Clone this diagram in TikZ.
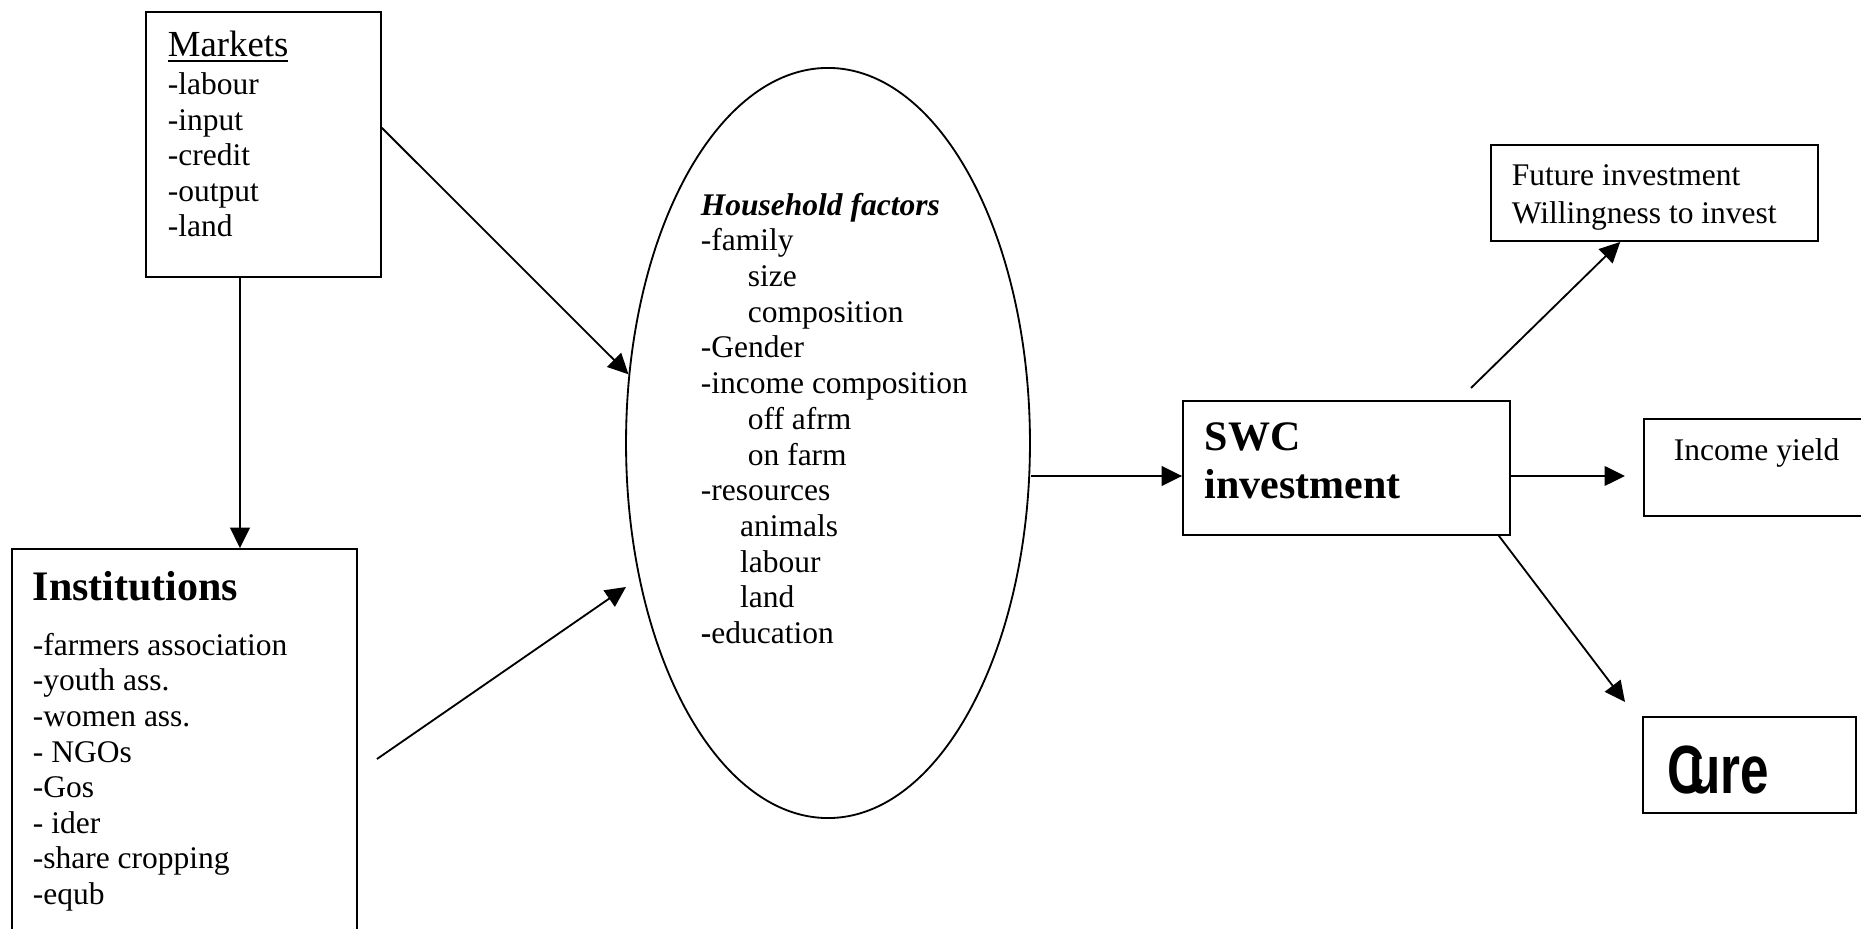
\documentclass[tikz,border=0pt]{standalone}
\usepackage{graphicx}
\usepackage{fontspec}
\setmainfont{Liberation Serif}
\newfontfamily\carefont{Liberation Sans}
\usetikzlibrary{arrows.meta,shapes.geometric}

\begin{document}
\begin{tikzpicture}[x=0.381pt, y=-0.381pt, line width=0.7pt,
    >={Triangle[length=7.8pt,width=7.5pt]},
    box/.style={draw, rectangle, inner sep=0pt},
    txt/.style={anchor=base west, align=left, inner sep=0pt,
                font=\fontsize{12}{13.56}\selectfont},
    head/.style={anchor=base west, inner sep=0pt,
                 font=\fontsize{16}{18.3}\selectfont\bfseries}]
  \useasboundingbox (0,0) rectangle (1861,929);
  \clip (0,0) rectangle (1861,929);

  % boxes
  \node[box, minimum width=89.5pt,  minimum height=101pt]   (mk)   at (263.5,144.5) {};
  \node[box, minimum width=131.4pt, minimum height=175.6pt] (inst) at (184.5,779.5) {};
  \node[draw, ellipse, inner sep=0pt, minimum width=153.9pt, minimum height=285.8pt] (hh) at (828,443) {};
  \node[box, minimum width=124.6pt, minimum height=51pt]    (swc)  at (1346.5,468) {};
  \node[box, minimum width=124.6pt, minimum height=36.6pt]  (fut)  at (1654.5,193) {};
  \node[box, minimum width=89.9pt,  minimum height=37pt]    (inc)  at (1762,467.5) {};
  \node[box, minimum width=81.2pt,  minimum height=36.6pt]  (care) at (1749.5,765) {};

  % texts (a multi-line node sits on the baseline of its last line)
  \node[txt, font=\fontsize{14}{16}\selectfont] (mk-title) at (167,57) {\underline{Markets}};
  \node[txt] (mk-list) at (167,237) {-labour\\-input\\-credit\\-output\\-land};
  \node[head] (inst-title) at (32,601) {Institutions};
  \node[txt] (inst-list) at (32,904.5)
    {-farmers association\\-youth ass.\\-women ass.\\- NGOs\\-Gos\\- ider\\-share cropping\\-equb};
  \node[txt, font=\fontsize{12}{13.6}\selectfont] (hh-list) at (700,643.5)
    {\textbf{\textit{Household factors}}\\-family\\\hspace{17.9pt}size\\\hspace{17.9pt}composition\\
     -Gender\\-income composition\\\hspace{17.9pt}off afrm\\\hspace{17.9pt}on farm\\
     -resources\\\hspace{14.9pt}animals\\\hspace{14.9pt}labour\\\hspace{14.9pt}land\\\textbf{-}education};
  \node[head, align=left] (swc-txt) at (1204,499) {SWC\\investment};
  \node[txt, font=\fontsize{12}{14.5}\selectfont] (fut-txt) at (1511,223.5)
    {Future investment\\Willingness to invest};
  \node[txt] (inc-txt) at (1673,461) {Income yield};
  \node[anchor=base west, inner sep=0pt, font=\carefont\bfseries\fontsize{26}{30}\selectfont]
    (care-txt) at (1667,794) {\scalebox{0.75}[1]{C\kern-0.3em ure}};

  % free ends
  \coordinate (inst-out) at (377,759);
  \coordinate (hh-in)    at (626,587);
  \coordinate (swc-up)   at (1471,388);
  \coordinate (inc-in)   at (1625,476);
  \coordinate (care-in)  at (1625,702);

  % arrows
  \draw[->] (mk.260.8) -- (mk.260.8 |- inst.north);
  \draw[->] (mk.8.5) -- (hh.161.1);
  \draw[->] (inst-out) -- (hh-in);
  \draw[->] ([yshift=-3.05pt]swc.west -| hh.east) -- ([yshift=-3.05pt]swc.west);
  \draw[->] (swc-up) -- (fut.235.9);
  \draw[->] ([yshift=-3.05pt]swc.east) -- (inc-in);
  \draw[->] (swc.-24) -- (care-in);
\end{tikzpicture}
\end{document}
